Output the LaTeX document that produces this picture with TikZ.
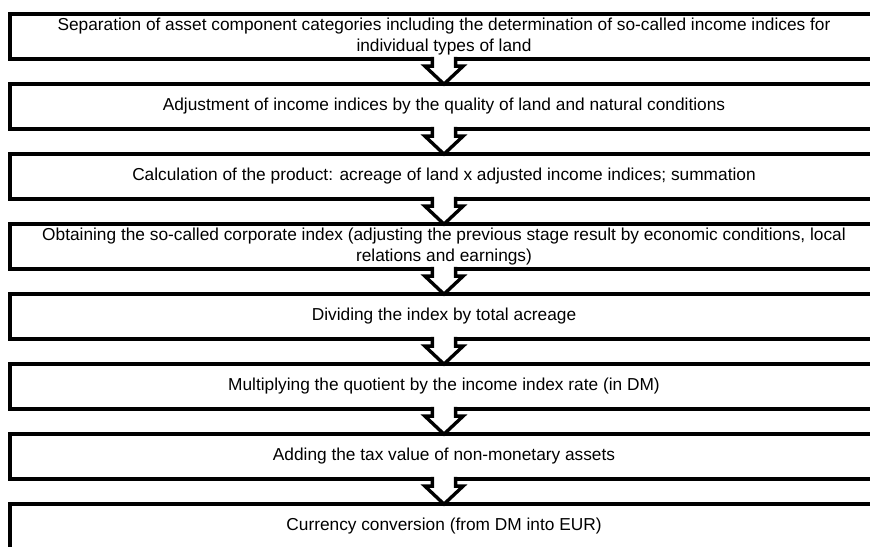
\documentclass[tikz,border=0pt]{standalone}
\usepackage{fontspec}
\setmainfont{Liberation Sans}
\usetikzlibrary{calc}
\newcommand{\stagearrow}[2]{%
  \filldraw[blk] ($(#1.south)+(-0.29,0.1)$) -- ($(#1.south)+(-0.29,-0.13)$) -- ($(#1.south)+(-0.48,-0.13)$)
    -- ($(#2.north)+(0,-0.05)$) -- ($(#1.south)+(0.48,-0.13)$) -- ($(#1.south)+(0.29,-0.13)$) -- ($(#1.south)+(0.29,0.1)$);}

\begin{document}
\begin{tikzpicture}[x=1cm,y=1cm,
  stage/.style={draw,line width=2.8pt,minimum width=21.72cm,minimum height=1.12cm,inner sep=0pt,align=center,font=\fontsize{12.3}{15.3}\selectfont},
  blk/.style  ={draw=black,fill=white,line width=2.4pt,miter limit=4}]
\clip (0,0) rectangle (21.75,13.675);
\node[stage] (sep)  at (11.1,12.7625){Separation of asset component categories including the determination of so-called income indices for\\ individual types of land};
\node[stage] (adj)  at (11.1,11.0125){Adjustment of income indices by the quality of land and natural conditions};
\node[stage] (calc) at (11.1, 9.2625){Calculation of the product: acreage of land x adjusted income indices; summation};
\node[stage] (corp) at (11.1, 7.5125){Obtaining the so-called corporate index (adjusting the previous stage result by economic conditions, local\\ relations and earnings)};
\node[stage] (div)  at (11.1, 5.7625){Dividing the index by total acreage};
\node[stage] (mult) at (11.1, 4.0125){Multiplying the quotient by the income index rate (in DM)};
\node[stage] (tax)  at (11.1, 2.2625){Adding the tax value of non-monetary assets};
\node[stage] (cur)  at (11.1, 0.5125){Currency conversion (from DM into EUR)};
\stagearrow{sep}{adj}
\stagearrow{adj}{calc}
\stagearrow{calc}{corp}
\stagearrow{corp}{div}
\stagearrow{div}{mult}
\stagearrow{mult}{tax}
\stagearrow{tax}{cur}
\end{tikzpicture}
\end{document}
